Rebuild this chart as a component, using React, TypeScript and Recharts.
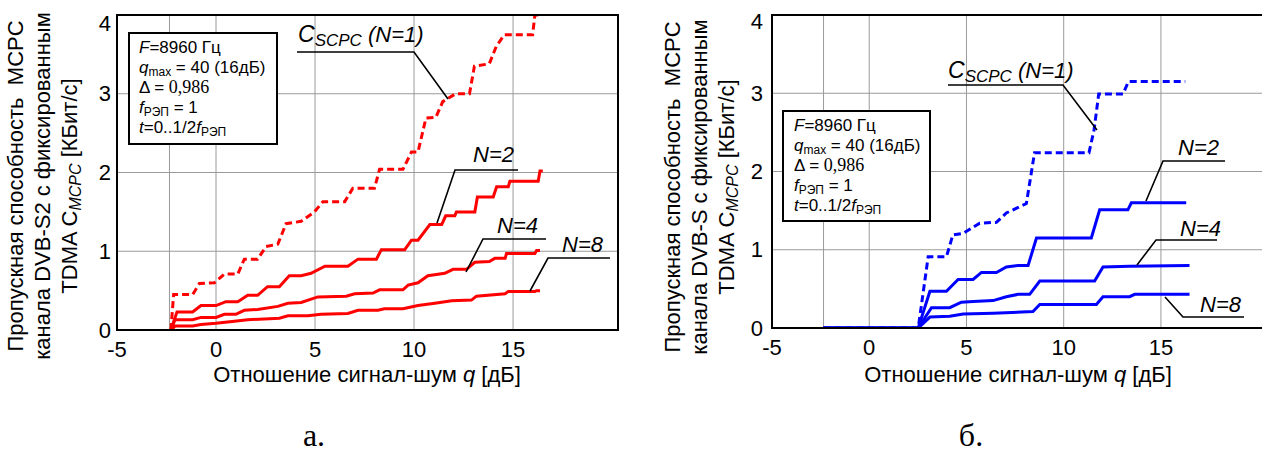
import React from 'react';
import { LineChart, Line, XAxis, YAxis, CartesianGrid, ReferenceLine } from 'recharts';

type P = [number, number];

// shared axis settings
const xTicks = [-5, 0, 5, 10, 15];
const yTicks = [0, 1, 2, 3, 4];
const xDomain: [number, number] = [-5, 20.3];
const yDomain: [number, number] = [0, 4];
const startGridQ = -2.35;

// (а) DVB-S2 — q [дБ], C [КБит/с]
const s2N1: P[] = [
  [-2.28, 0], [-2.14, 0.45], [-1.18, 0.45], [-0.84, 0.59], [-0.08, 0.6], [0.42, 0.71], [1.1, 0.71],
  [1.43, 0.9], [2.1, 0.9], [2.53, 1.06], [3.12, 1.09], [3.54, 1.35], [4.3, 1.38], [4.97, 1.5],
  [5.4, 1.63], [6.5, 1.63], [6.91, 1.8], [8.0, 1.8], [8.26, 2.04], [9.44, 2.04], [9.87, 2.26],
  [10.2, 2.26], [10.6, 2.69], [11.1, 2.7], [11.45, 2.9], [12.1, 3.0], [12.8, 3.0], [13.05, 3.35],
  [13.8, 3.38], [14.15, 3.6], [14.56, 3.75], [15.99, 3.75], [16.1, 4.0], [16.3, 4.0],
];
const s2N2: P[] = [
  [-2.28, 0], [-1.97, 0.23], [-1.18, 0.23], [-0.76, 0.31], [0.0, 0.31], [0.5, 0.36], [1.1, 0.36],
  [1.6, 0.44], [2.1, 0.44], [2.6, 0.55], [3.2, 0.55], [3.7, 0.69], [4.3, 0.69], [4.8, 0.72],
  [5.5, 0.81], [6.66, 0.81], [7.17, 0.9], [8.1, 0.9], [8.35, 1.02], [9.53, 1.02], [9.87, 1.14],
  [10.2, 1.14], [10.8, 1.34], [11.4, 1.34], [11.6, 1.45], [12.06, 1.45], [12.14, 1.5], [13.07, 1.5],
  [13.2, 1.69], [14.0, 1.69], [14.17, 1.82], [14.76, 1.82], [14.84, 1.89], [16.27, 1.89],
  [16.36, 2.02], [16.5, 2.02],
];
const s2N4: P[] = [
  [-2.28, 0], [-2.07, 0.13], [-1.18, 0.13], [-0.76, 0.16], [0.0, 0.16], [0.42, 0.2], [1.0, 0.2],
  [1.43, 0.25], [2.1, 0.26], [3.12, 0.3], [3.63, 0.34], [4.3, 0.35], [5.14, 0.42], [6.58, 0.43],
  [7.0, 0.46], [7.93, 0.47], [8.26, 0.51], [9.44, 0.51], [9.7, 0.57], [10.2, 0.6], [10.7, 0.69],
  [11.55, 0.72], [11.97, 0.77], [12.65, 0.77], [13.07, 0.86], [13.8, 0.87], [14.08, 0.91],
  [14.6, 0.91], [14.67, 0.97], [16.1, 0.97], [16.19, 1.01], [16.36, 1.01],
];
const s2N8: P[] = [
  [-2.28, 0], [-2.07, 0.05], [-1.18, 0.05], [-0.76, 0.07], [0.0, 0.085], [0.93, 0.11], [1.6, 0.13],
  [3.2, 0.15], [3.63, 0.18], [4.64, 0.18], [5.3, 0.2], [6.66, 0.21], [7.17, 0.25], [8.18, 0.25],
  [8.5, 0.27], [9.44, 0.27], [10.2, 0.31], [11.05, 0.34], [11.9, 0.37], [12.9, 0.38], [13.15, 0.43],
  [14.6, 0.46], [14.76, 0.49], [16.1, 0.49], [16.19, 0.5], [16.36, 0.5],
];

// (б) DVB-S
const sN1: P[] = [
  [-2.36, 0], [2.52, 0], [3.03, 0.91], [3.97, 0.91], [4.3, 1.19], [4.83, 1.21], [5.68, 1.34],
  [6.54, 1.35], [7.05, 1.47], [8.08, 1.59], [8.5, 2.24], [11.3, 2.24], [11.56, 2.53], [11.8, 2.99],
  [13.05, 2.99], [13.33, 3.15], [16.25, 3.15],
];
const sN2: P[] = [
  [-2.36, 0], [2.52, 0], [3.12, 0.47], [3.97, 0.47], [4.57, 0.62], [5.34, 0.62], [5.77, 0.71],
  [6.54, 0.71], [7.05, 0.78], [7.65, 0.8], [8.17, 0.8], [8.6, 1.15], [11.42, 1.15], [11.85, 1.51],
  [13.3, 1.51], [13.48, 1.6], [16.3, 1.6],
];
const sN4: P[] = [
  [-2.36, 0], [2.52, 0], [3.2, 0.26], [4.14, 0.26], [4.74, 0.33], [5.34, 0.34], [6.37, 0.35],
  [7.05, 0.4], [7.65, 0.43], [8.25, 0.43], [8.77, 0.6], [11.59, 0.6], [12.02, 0.78], [13.39, 0.79],
  [16.47, 0.8],
];
const sN8: P[] = [
  [-2.36, 0], [2.52, 0], [3.12, 0.14], [4.14, 0.15], [4.83, 0.18], [6.37, 0.19], [8.42, 0.21],
  [8.77, 0.3], [11.68, 0.3], [12.02, 0.4], [13.39, 0.4], [13.65, 0.43], [16.47, 0.43],
];

const toRows = (pts: P[]) => pts.map(([q, c]) => ({ q, c }));

const SANS = '"Liberation Sans", Arial, sans-serif';
const SERIF = '"Liberation Serif", "Times New Roman", serif';
const RED = '#ff0000';
const BLUE = '#0000ff';
const GRID = '#9a9a9a';
const TICK_FS = 22;
const LABEL_FS = 22;

const makeYTick = (topShift: number) => (props: any) => {
  const { x, y, payload } = props;
  const shift = payload.value === 4 ? topShift : 0;
  return (
    <text x={x} y={y + shift} textAnchor="end" dominantBaseline="central" fontSize={TICK_FS} fill="#000" fontFamily={SANS}>
      {payload.value}
    </text>
  );
};

type PanelProps = {
  left: number;
  width: number;
  margin: { top: number; right: number; bottom: number; left: number };
  color: string;
  series: P[][];
  yTickMargin: number;
  topShift: number;
};

const Panel = ({ left, width, margin, color, series, yTickMargin, topShift }: PanelProps) => (
  <div style={{ position: 'absolute', left, top: 0 }}>
    <LineChart width={width} height={400} margin={margin}>
      <CartesianGrid stroke={GRID} strokeWidth={1} />
      <XAxis
        type="number"
        dataKey="q"
        domain={xDomain}
        ticks={xTicks}
        allowDataOverflow
        axisLine={false}
        tickLine={false}
        tickSize={0}
        tickMargin={11}
        height={40}
        interval={0}
        tick={{ fontSize: TICK_FS, fill: '#000', fontFamily: SANS }}
      />
      <YAxis
        type="number"
        dataKey="c"
        domain={yDomain}
        ticks={yTicks}
        allowDataOverflow
        axisLine={false}
        tickLine={false}
        tickSize={0}
        tickMargin={yTickMargin}
        width={40}
        interval={0}
        tick={makeYTick(topShift)}
      />
      <ReferenceLine x={startGridQ} stroke={GRID} strokeWidth={1} />
      {series.map((pts, i) => (
        <Line
          key={i}
          data={toRows(pts)}
          dataKey="c"
          type="linear"
          stroke={color}
          strokeWidth={3}
          strokeDasharray={i === 0 ? '7 4' : undefined}
          dot={false}
          activeDot={false}
          isAnimationActive={false}
        />
      ))}
    </LineChart>
  </div>
);

const InfoBox = ({ x, y, w, h, tx, ty }: { x: number; y: number; w: number; h: number; tx: number; ty: number }) => (
  <g fontFamily={SANS} fontSize={17} fill="#000">
    <rect x={x} y={y} width={w} height={h} fill="#fff" stroke="#000" strokeWidth={2} />
    <text x={tx} y={ty}>
      <tspan fontStyle="italic">F</tspan>=8960 Гц
    </text>
    <text x={tx} y={ty + 20}>
      <tspan fontStyle="italic">q</tspan>
      <tspan fontSize={12} dy={3}>max</tspan>
      <tspan dy={-3}> = 40 (16дБ)</tspan>
    </text>
    <text x={tx} y={ty + 40}>
      Δ = <tspan fontFamily={SERIF} fontSize={18}>0,986</tspan>
    </text>
    <text x={tx} y={ty + 60}>
      <tspan fontStyle="italic">f</tspan>
      <tspan fontSize={12} dy={3}>РЭП</tspan>
      <tspan dy={-3}> = 1</tspan>
    </text>
    <text x={tx} y={ty + 80}>
      <tspan fontStyle="italic">t</tspan>=0..1/2<tspan fontStyle="italic">f</tspan>
      <tspan fontSize={12} dy={3}>РЭП</tspan>
    </text>
  </g>
);

const Callout = ({ pts, tx, ty, label }: { pts: number[][]; tx: number; ty: number; label: React.ReactNode }) => (
  <g>
    <polyline points={pts.map((p) => p.join(',')).join(' ')} fill="none" stroke="#000" strokeWidth={1.6} />
    <text x={tx} y={ty} fontFamily={SANS} fontSize={22} fontStyle="italic" fill="#000">
      {label}
    </text>
  </g>
);

const ScpcLabel = (
  <>
    <tspan fontSize={23}>C</tspan>
    <tspan fontSize={17} dy={4}>SCPC</tspan>
    <tspan dy={-4}> (N=1)</tspan>
  </>
);

const YLabel = ({ xs, cy, s2 }: { xs: number[]; cy: number; s2: boolean }) => (
  <g fontFamily={SANS} fontSize={LABEL_FS} fill="#000">
    <text transform={`translate(${xs[0]},${cy}) rotate(-90)`} textAnchor="middle">
      {'Пропускная способность\u00A0\u00A0MCPC'}
    </text>
    <text transform={`translate(${xs[1]},${cy}) rotate(-90)`} textAnchor="middle">
      {s2 ? 'канала DVB-S2 с фиксированным' : 'канала DVB-S с фиксированным'}
    </text>
    <text transform={`translate(${xs[2]},${cy}) rotate(-90)`} textAnchor="middle">
      TDMA C<tspan fontStyle="italic" fontSize={16} dy={4}>MCPC</tspan>
      <tspan dy={-4}> [КБит/с]</tspan>
    </text>
  </g>
);

const XLabel = ({ cx }: { cx: number }) => (
  <text x={cx} y={382} textAnchor="middle" fontFamily={SANS} fontSize={LABEL_FS} fill="#000">
    Отношение сигнал-шум <tspan fontStyle="italic">q</tspan> [дБ]
  </text>
);

export default function App() {
  return (
    <div
      style={{
        position: 'absolute',
        left: 0,
        top: 0,
        width: 1262,
        height: 457,
        overflow: 'hidden',
        background: '#fff',
      }}
    >
      <Panel
        left={0}
        width={640}
        margin={{ top: 15, right: 22, bottom: 30, left: 77 }}
        color={RED}
        series={[s2N1, s2N2, s2N4, s2N8]}
        yTickMargin={6}
        topShift={8}
      />
      <Panel
        left={640}
        width={640}
        margin={{ top: 15, right: 16, bottom: 32, left: 92 }}
        color={BLUE}
        series={[sN1, sN2, sN4, sN8]}
        yTickMargin={9}
        topShift={6}
      />
      <svg
        width={1262}
        height={457}
        style={{ position: 'absolute', left: 0, top: 0, pointerEvents: 'none' }}
      >
        {/* frames */}
        <rect x={117} y={15} width={501} height={315} fill="none" stroke="#000" strokeWidth={2} />
        <rect x={772} y={15} width={492} height={313} fill="none" stroke="#000" strokeWidth={2} />

        {/* info boxes */}
        <InfoBox x={129} y={33} w={148} h={111} tx={139} ty={53} />
        <InfoBox x={783} y={111} w={147} h={110} tx={794} ty={131} />

        {/* callouts, panel а */}
        <Callout pts={[[297, 52], [414, 52], [448, 99]]} tx={298} ty={42} label={ScpcLabel} />
        <Callout pts={[[518, 170], [455, 170], [437, 223]]} tx={473} ty={162} label="N=2" />
        <Callout pts={[[546, 239], [483, 239], [466, 272]]} tx={497} ty={233} label="N=4" />
        <Callout pts={[[610, 258], [548, 258], [530, 291]]} tx={562} ty={252} label="N=8" />

        {/* callouts, panel б */}
        <Callout pts={[[948, 85], [1063, 85], [1097, 130]]} tx={948} ty={78} label={ScpcLabel} />
        <Callout pts={[[1225, 161], [1163, 161], [1146, 201]]} tx={1178} ty={155} label="N=2" />
        <Callout pts={[[1217, 240], [1156, 240], [1137, 265]]} tx={1180} ty={236} label="N=4" />
        <Callout pts={[[1244, 317], [1183, 317], [1165, 297]]} tx={1200} ty={312} label="N=8" />

        {/* axis titles */}
        <YLabel xs={[23, 50, 77]} cy={186} s2={true} />
        <YLabel xs={[680, 707, 734]} cy={187} s2={false} />
        <XLabel cx={367} />
        <XLabel cx={1018} />

        {/* captions */}
        <text x={314} y={446} textAnchor="middle" fontFamily={SERIF} fontSize={32} fill="#000">
          а.
        </text>
        <text x={971} y={446} textAnchor="middle" fontFamily={SERIF} fontSize={32} fill="#000">
          б.
        </text>
      </svg>
    </div>
  );
}
